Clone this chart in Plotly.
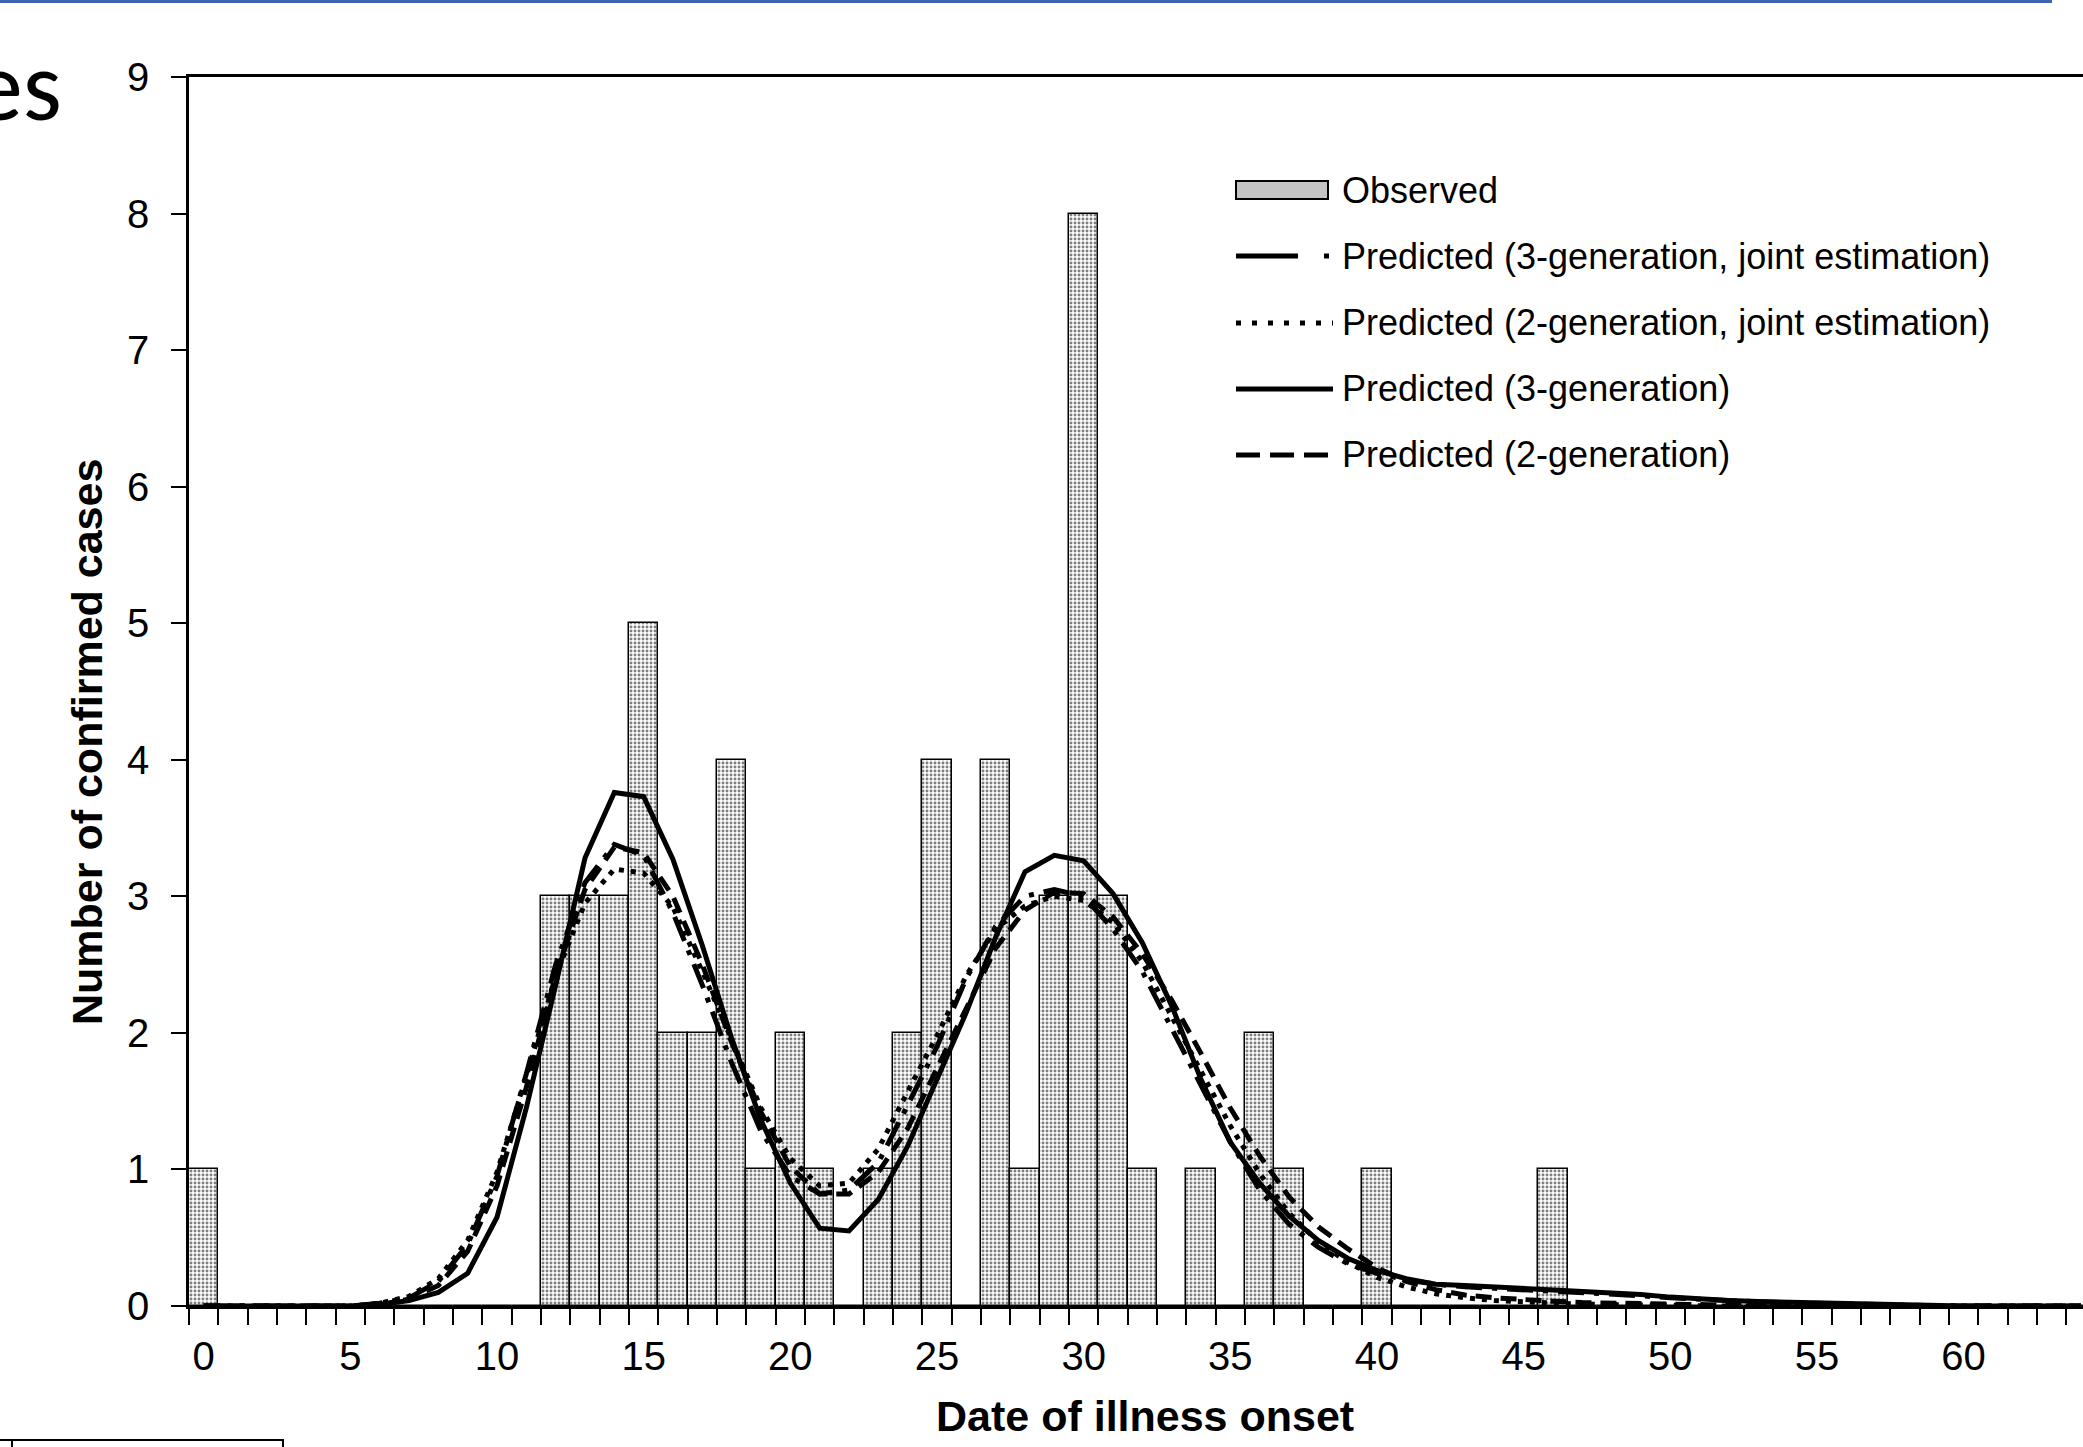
import plotly.graph_objects as go

# ---------------- data ----------------
days = list(range(0, 65))

observed = [1, 0, 0, 0, 0, 0, 0, 0, 0, 0,
            0, 0, 3, 3, 3, 5, 2, 2, 4, 1,
            2, 1, 0, 1, 2, 4, 0, 4, 1, 3,
            8, 3, 1, 0, 1, 0, 2, 1, 0, 0,
            1, 0, 0, 0, 0, 0, 1, 0, 0, 0,
            0, 0, 0, 0, 0, 0, 0, 0, 0, 0,
            0, 0, 0, 0, 0]

pred_3gen_joint = [0, 0, 0, 0, 0, 0, 0.02, 0.06, 0.18, 0.45,
                   0.95, 1.70, 2.50, 3.10, 3.38, 3.30, 2.88, 2.35, 1.78, 1.28,
                   0.95, 0.82, 0.85, 1.05, 1.47, 1.90, 2.40, 2.78, 3.00, 3.05,
                   3.00, 2.76, 2.45, 2.03, 1.62, 1.20, 0.85, 0.60, 0.43, 0.31,
                   0.24, 0.19, 0.16, 0.14, 0.13, 0.12, 0.11, 0.10, 0.09, 0.075,
                   0.06, 0.047, 0.037, 0.03, 0.024, 0.018, 0.012, 0.008, 0.005, 0.002,
                   0, 0, 0, 0, 0]

pred_2gen_joint = [0, 0, 0, 0, 0, 0, 0.02, 0.07, 0.20, 0.48,
                   0.98, 1.68, 2.42, 2.95, 3.20, 3.17, 2.92, 2.45, 1.95, 1.45,
                   1.08, 0.88, 0.90, 1.15, 1.57, 1.98, 2.42, 2.76, 2.93, 3.00,
                   2.97, 2.81, 2.52, 2.12, 1.72, 1.32, 0.97, 0.68, 0.47, 0.32,
                   0.21, 0.14, 0.09, 0.06, 0.04, 0.03, 0.02, 0.014, 0.01, 0.006,
                   0.004, 0.002, 0, 0, 0, 0, 0, 0, 0, 0,
                   0, 0, 0, 0, 0]

pred_3gen = [0, 0, 0, 0, 0, 0, 0.01, 0.04, 0.10, 0.24,
             0.65, 1.45, 2.35, 3.28, 3.76, 3.73, 3.27, 2.64, 1.96, 1.36,
             0.90, 0.57, 0.55, 0.78, 1.17, 1.65, 2.15, 2.70, 3.18, 3.30,
             3.26, 3.02, 2.66, 2.20, 1.66, 1.20, 0.90, 0.66, 0.48, 0.35,
             0.26, 0.20, 0.16, 0.15, 0.14, 0.13, 0.12, 0.11, 0.10, 0.085,
             0.065, 0.05, 0.04, 0.033, 0.027, 0.021, 0.015, 0.01, 0.006, 0.003,
             0, 0, 0, 0, 0]

pred_2gen = [0, 0, 0, 0, 0, 0, 0.01, 0.05, 0.15, 0.40,
             0.88, 1.60, 2.42, 3.05, 3.36, 3.32, 3.00, 2.50, 1.93, 1.42,
             1.02, 0.82, 0.82, 0.98, 1.30, 1.74, 2.18, 2.62, 2.90, 3.03,
             3.02, 2.85, 2.58, 2.24, 1.85, 1.45, 1.10, 0.80, 0.58, 0.42,
             0.28, 0.18, 0.12, 0.08, 0.06, 0.045, 0.035, 0.025, 0.02, 0.015,
             0.01, 0.008, 0.005, 0.003, 0, 0, 0, 0, 0, 0,
             0, 0, 0, 0, 0]

x_tick_vals = list(range(0, 61, 5))
x_tick_text = [str(v) for v in x_tick_vals]
y_tick_vals = list(range(0, 10))

legend_labels = ["Observed",
                 "Predicted (3-generation, joint estimation)",
                 "Predicted (2-generation, joint estimation)",
                 "Predicted (3-generation)",
                 "Predicted (2-generation)"]

x_title = "Date of illness onset"
y_title = "Number of confirmed cases"
slide_fragment = "es"

# ---------------- layout geometry ----------------
W, H = 2083, 1447
L, T, B = 189, 77, 141
PW = W - L
PH = H - T - B


def px_x(p):
    return (p - L) / PW


def px_y(p):
    return (H - B - p) / PH


FONT = "Liberation Sans, Arial, sans-serif"

fig = go.Figure()

fig.add_trace(go.Bar(
    x=days, y=observed, width=1, name=legend_labels[0],
    marker=dict(color="white",
                line=dict(color="black", width=1.5),
                pattern=dict(shape=".", fgcolor="black", bgcolor="white",
                             size=4, solidity=0.42)),
    showlegend=False))

series = [
    (legend_labels[1], pred_3gen_joint, "26px,10px,5px,10px"),
    (legend_labels[2], pred_2gen_joint, "5px,7px"),
    (legend_labels[3], pred_3gen, "solid"),
    (legend_labels[4], pred_2gen, "16px,9px"),
]
for name, vals, dash in series:
    fig.add_trace(go.Scatter(x=days, y=vals, mode="lines", name=name,
                             line=dict(color="black", width=5, dash=dash),
                             showlegend=False))

fig.update_layout(
    width=W, height=H,
    margin=dict(l=L, r=0, t=T, b=B, pad=0),
    plot_bgcolor="white", paper_bgcolor="white",
    bargap=0, showlegend=False,
)

fig.update_xaxes(
    range=[-0.5, 64.07],
    tickmode="array", tickvals=x_tick_vals, ticktext=x_tick_text,
    ticks="outside", ticklen=1, tickwidth=1, tickcolor="rgba(0,0,0,0)",
    ticklabelstandoff=12,
    showline=True, linecolor="black", linewidth=3, mirror=True,
    showgrid=False, zeroline=False,
    tickfont=dict(family=FONT, size=40, color="black"),
    minor=dict(tickmode="linear", tick0=-0.5, dtick=1, ticks="outside",
               ticklen=16, tickwidth=2, tickcolor="black", showgrid=False),
)

fig.update_yaxes(
    range=[0, 9], tickmode="array", tickvals=y_tick_vals,
    ticks="outside", ticklen=15, tickwidth=2, tickcolor="black",
    ticklabelstandoff=14,
    showline=True, linecolor="black", linewidth=2.5,
    showgrid=False, zeroline=False,
    tickfont=dict(family=FONT, size=40, color="black"),
)

annotations = [
    dict(text=y_title, textangle=-90, x=px_x(87), y=px_y(742),
         xref="paper", yref="paper", xanchor="center", yanchor="middle",
         showarrow=False, font=dict(family=FONT, size=43, color="black", weight="bold")),
    dict(text=x_title, x=px_x(1145), y=px_y(1416),
         xref="paper", yref="paper", xanchor="center", yanchor="middle",
         showarrow=False, font=dict(family=FONT, size=43, color="black", weight="bold")),
    dict(text=slide_fragment, x=px_x(64), y=px_y(86),
         xref="paper", yref="paper", xanchor="right", yanchor="middle",
         showarrow=False, font=dict(family="Carlito, Open Sans, sans-serif", size=100, color="black")),
]

legend_rows = [190, 256, 323, 389, 455]
for lab, ry in zip(legend_labels, legend_rows):
    annotations.append(dict(text=lab, x=px_x(1340), y=px_y(ry), xref="paper", yref="paper",
                            xanchor="left", yanchor="middle", showarrow=False,
                            font=dict(family=FONT, size=36, color="black")))

shapes = []
# legend swatches
shapes.append(dict(type="rect", xref="paper", yref="paper",
                   x0=px_x(1236), x1=px_x(1328), y0=px_y(199), y1=px_y(181),
                   fillcolor="#c4c4c4", line=dict(color="black", width=2)))
legend_dash = ["62px,26px,5px,40px", "5px,11px", "solid", "24px,10px"]
for ry, dsh in zip(legend_rows[1:], legend_dash):
    shapes.append(dict(type="line", xref="paper", yref="paper",
                       x0=px_x(1236), x1=px_x(1333), y0=px_y(ry), y1=px_y(ry),
                       line=dict(color="black", width=5, dash=dsh)))

# slide decorations (header rule and a box edge at bottom-left)
shapes.append(dict(type="line", xref="paper", yref="paper",
                   x0=px_x(0), x1=px_x(2052), y0=px_y(1.5), y1=px_y(1.5),
                   line=dict(color="#3F63AE", width=3)))
shapes.append(dict(type="path", xref="paper", yref="paper",
                   path=f"M {px_x(0)},{px_y(1440)} L {px_x(283)},{px_y(1440)} L {px_x(283)},{px_y(1450)}",
                   line=dict(color="black", width=2)))
shapes.append(dict(type="line", xref="paper", yref="paper",
                   x0=px_x(12), x1=px_x(12), y0=px_y(1440), y1=px_y(1450),
                   line=dict(color="black", width=2)))

fig.update_layout(annotations=annotations, shapes=shapes)

fig.write_html("out.html",
               config={"displayModeBar": False},
               post_script="document.body.style.margin='0px';document.body.style.overflow='hidden';")
